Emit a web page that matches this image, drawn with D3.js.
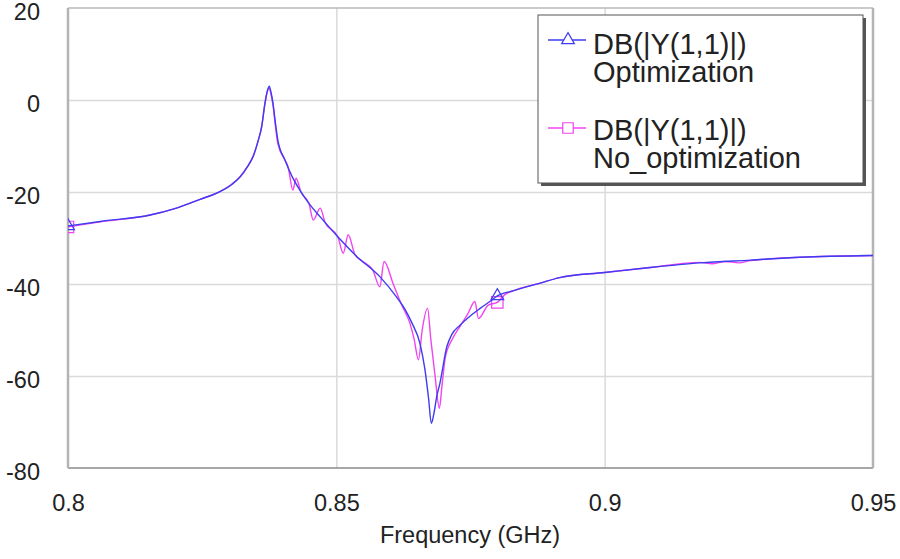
<!DOCTYPE html>
<html>
<head>
    <script src="https://cdnjs.cloudflare.com/ajax/libs/d3/7.8.5/d3.min.js"></script>
    <style>
        body { margin: 0; background: #fff; }
        text { font-family: "Liberation Sans", Arial, sans-serif; fill: #222; }
    </style>
</head>
<body>
    <div id="chart"></div>
    <script>
        // DB(|Y(1,1)|) Optimization
        const freqOpt = [0.8000, 0.8060, 0.8153, 0.8199, 0.8246, 0.8283, 0.8306, 0.8321, 0.8334, 0.8345,
            0.8354, 0.8361, 0.8367, 0.8371, 0.8375, 0.8378, 0.8382, 0.8386, 0.8391, 0.8404,
            0.8417, 0.8432, 0.8451, 0.8470, 0.8501, 0.8538, 0.8581, 0.8612, 0.8628, 0.8641,
            0.8656, 0.8665, 0.8672, 0.8677, 0.8682, 0.8687, 0.8693, 0.8706, 0.8715, 0.8730,
            0.8749, 0.8768, 0.8786, 0.8800, 0.8829, 0.8880, 0.8916, 0.9000, 0.9085, 0.9178,
            0.9272, 0.9364, 0.9500];
        const dbOpt = [-27.4, -26.4, -25.0, -23.6, -21.6, -19.9, -18.3, -16.7, -14.6, -12.3,
            -9.0, -5.8, -0.7, 1.8, 3.0, 1.8, -0.7, -4.5, -8.7, -13.0,
            -16.5, -19.6, -22.8, -25.4, -29.5, -34.0, -38.4, -42.8, -45.5, -48.5,
            -53.0, -58.5, -65.0, -70.3, -68.0, -64.5, -61.6, -53.6, -51.0, -49.0,
            -47.0, -45.3, -43.8, -42.6, -41.5, -39.8, -38.6, -37.5, -36.4, -35.4,
            -34.8, -34.2, -33.8];

        // DB(|Y(1,1)|) No_optimization
        const freqNoOpt = [0.8000, 0.8060, 0.8153, 0.8199, 0.8246, 0.8283, 0.8306, 0.8321, 0.8334, 0.8345,
            0.8354, 0.8361, 0.8367, 0.8371, 0.8375, 0.8378, 0.8382, 0.8386, 0.8391, 0.8404,
            0.8410, 0.8419, 0.8425, 0.8434, 0.8449, 0.8457, 0.8470, 0.8479, 0.8503, 0.8513,
            0.8522, 0.8535, 0.8548, 0.8568, 0.8581, 0.8589, 0.8606, 0.8622, 0.8637, 0.8645,
            0.8653, 0.8660, 0.8670, 0.8676, 0.8684, 0.8692, 0.8697, 0.8703, 0.8716, 0.8730,
            0.8745, 0.8758, 0.8765, 0.8783, 0.8800, 0.8814, 0.8829, 0.8880, 0.8916, 0.9000,
            0.9085, 0.9178, 0.9200, 0.9225, 0.9250, 0.9272, 0.9364, 0.9500];
        const dbNoOpt = [-27.6, -26.5, -25.0, -23.6, -21.6, -19.9, -18.2, -16.6, -14.5, -12.2,
            -9.0, -5.6, -0.8, 1.6, 2.6, 1.4, -1.2, -5.2, -9.5, -13.0,
            -14.5, -19.6, -17.0, -20.0, -22.5, -26.1, -23.5, -26.6, -29.8, -33.3,
            -29.3, -33.7, -35.0, -37.0, -40.6, -35.1, -40.0, -44.6, -48.5, -52.0,
            -56.5, -50.0, -45.3, -52.0, -60.0, -67.0, -62.0, -56.0, -52.0, -49.3,
            -46.5, -43.8, -47.5, -44.6, -44.0, -42.3, -41.5, -39.8, -38.6, -37.5,
            -36.4, -35.3, -35.6, -35.1, -35.4, -34.9, -34.2, -33.8];

        const markerFreqs = [0.80, 0.88];
        const xTicks = [0.8, 0.85, 0.9, 0.95];
        const xTickLabels = ["0.8", "0.85", "0.9", "0.95"];
        const yTicks = [20, 0, -20, -40, -60, -80];

        const width = 900, height = 559;
        const padL = 68, padR = 873, padT = 8, padB = 468;

        const svg = d3.select("#chart")
            .append("svg")
            .attr("width", width)
            .attr("height", height);

        const x = d3.scaleLinear().domain([0.8, 0.95]).range([padL, padR]);
        const y = d3.scaleLinear().domain([-80, 20]).range([padB, padT]);

        // grid
        svg.append("g")
            .attr("transform", `translate(0,${padB})`)
            .call(d3.axisBottom(x).tickValues([0.85, 0.9]).tickSize(-(padB - padT)).tickFormat(""))
            .call(g => g.select(".domain").remove())
            .call(g => g.selectAll("line").attr("stroke", "#dadada").attr("stroke-width", 1.5));
        svg.append("g")
            .attr("transform", `translate(${padL},0)`)
            .call(d3.axisLeft(y).tickValues([0, -20, -40, -60]).tickSize(-(padR - padL)).tickFormat(""))
            .call(g => g.select(".domain").remove())
            .call(g => g.selectAll("line").attr("stroke", "#dadada").attr("stroke-width", 1.5));

        // frame
        svg.append("line").attr("x1", padL).attr("x2", padR).attr("y1", padT).attr("y2", padT)
            .attr("stroke", "#b8b8b8").attr("stroke-width", 1.5);
        svg.append("line").attr("x1", padL).attr("x2", padR).attr("y1", padB).attr("y2", padB)
            .attr("stroke", "#8a8a8a").attr("stroke-width", 1.5);
        svg.append("line").attr("x1", padL).attr("x2", padL).attr("y1", padT).attr("y2", padB)
            .attr("stroke", "#b4b4b4").attr("stroke-width", 2.5);
        svg.append("line").attr("x1", padR).attr("x2", padR).attr("y1", padT).attr("y2", padB)
            .attr("stroke", "#b4b4b4").attr("stroke-width", 2.5);

        // tick labels
        svg.append("g")
            .attr("transform", `translate(${padL},0)`)
            .call(d3.axisLeft(y).tickValues(yTicks).tickSize(0).tickPadding(28).tickFormat(d => String(d)))
            .call(g => g.select(".domain").remove())
            .call(g => g.selectAll("text").attr("font-size", 23.5).attr("dy", "0.5em").attr("fill", "#222"));
        svg.append("g")
            .attr("transform", `translate(0,${padB})`)
            .call(d3.axisBottom(x).tickValues(xTicks).tickSize(0).tickFormat((d, i) => xTickLabels[i]))
            .call(g => g.select(".domain").remove())
            .call(g => g.selectAll("text").attr("font-size", 23.5).attr("y", 43).attr("dy", 0).attr("fill", "#222"));

        svg.append("text")
            .attr("x", 470).attr("y", 543)
            .attr("text-anchor", "middle")
            .attr("font-size", 23.5)
            .text("Frequency (GHz)");

        // curves
        svg.append("clipPath").attr("id", "plot")
            .append("rect").attr("x", padL).attr("y", padT).attr("width", padR - padL).attr("height", padB - padT);
        const plot = svg.append("g").attr("clip-path", "url(#plot)");

        const line = d3.line().x(d => x(d[0])).y(d => y(d[1])).curve(d3.curveMonotoneX);
        const series = [
            { f: freqNoOpt, v: dbNoOpt, color: "#f044f0", marker: "square" },
            { f: freqOpt, v: dbOpt, color: "#3c3cf0", marker: "triangle" }
        ];

        series.forEach(s => {
            const pts = s.f.map((f, i) => [f, s.v[i]]);
            plot.append("path")
                .datum(pts)
                .attr("fill", "none")
                .attr("stroke", s.color)
                .attr("stroke-width", 1.4)
                .attr("d", line);

            const sym = d3.symbol()
                .type(s.marker === "square" ? d3.symbolSquare : d3.symbolTriangle)
                .size(s.marker === "square" ? 130 : 70);
            plot.selectAll(null)
                .data(markerFreqs)
                .enter()
                .append("path")
                .attr("transform", f => `translate(${x(f)},${y(s.v[s.f.indexOf(f)])})`)
                .attr("d", sym)
                .attr("fill", "none")
                .attr("stroke", s.color)
                .attr("stroke-width", 1.2);
        });

        // legend
        const lg = svg.append("g");
        lg.append("rect").attr("x", 541).attr("y", 18).attr("width", 325).attr("height", 168).attr("fill", "#555");
        lg.append("rect").attr("x", 538).attr("y", 15).attr("width", 325).attr("height", 168)
            .attr("fill", "#fff").attr("stroke", "#555").attr("stroke-width", 1);

        const legendItems = [
            { color: "#3c3cf0", marker: "triangle", ly: 40, lines: ["DB(|Y(1,1)|)", "Optimization"], by: 54 },
            { color: "#f044f0", marker: "square", ly: 128, lines: ["DB(|Y(1,1)|)", "No_optimization"], by: 140 }
        ];
        legendItems.forEach(it => {
            lg.append("line").attr("x1", 548).attr("x2", 586).attr("y1", it.ly).attr("y2", it.ly)
                .attr("stroke", it.color).attr("stroke-width", 1.3);
            lg.append("path")
                .attr("transform", `translate(568,${it.ly})`)
                .attr("d", d3.symbol().type(it.marker === "square" ? d3.symbolSquare : d3.symbolTriangle)
                    .size(it.marker === "square" ? 110 : 70))
                .attr("fill", "#fff").attr("stroke", it.color).attr("stroke-width", 1.2);
            const txt = lg.append("text").attr("x", 593).attr("y", it.by)
                .attr("font-size", 29).attr("fill", "#111");
            it.lines.forEach((t, i) => {
                txt.append("tspan").attr("x", 593).attr("dy", i === 0 ? 0 : 28).text(t);
            });
        });
    </script>
</body>
</html>
